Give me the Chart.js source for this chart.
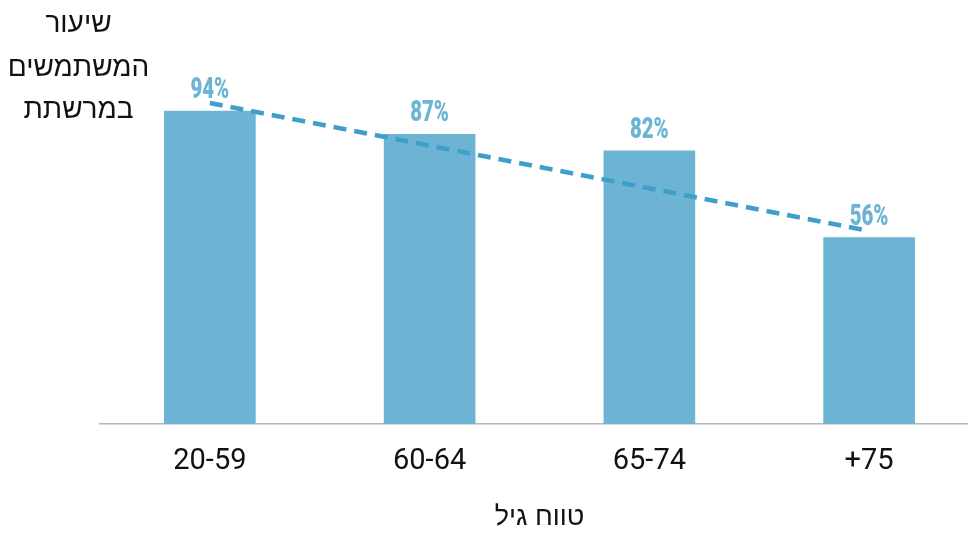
<!DOCTYPE html>
<html lang="he">
<head>
<meta charset="utf-8">
<script src="https://cdn.jsdelivr.net/npm/chart.js@4"></script>
<style>
  html, body { margin: 0; padding: 0; background: #fff; overflow: hidden; }
  #wrap { width: 980px; height: 536px; }
</style>
</head>
<body>
<div id="wrap"><canvas id="c" width="980" height="536"></canvas></div>
<script>
// Age groups and share of internet users in each (percent)
const ageGroups = ['20-59', '60-64', '65-74', '+75'];
const userRates = [94, 87, 82, 56];
// Dashed trend line: read at the first and last age group, straight between
const trendLine = [96.4, null, null, 58];
const yTitleLines = ['שיעור', 'המשתמשים', 'במרשתת'];
const xTitle = 'טווח גיל';

const barColor = '#6db4d4';
const trendColor = '#3f9fcb';

// Percent labels above each bar, in a narrow bold face
const barLabels = {
  id: 'barLabels',
  afterDatasetsDraw(chart) {
    const ctx = chart.ctx;
    const meta = chart.getDatasetMeta(1);
    ctx.save();
    ctx.fillStyle = barColor;
    ctx.font = '900 30px Roboto';
    ctx.textAlign = 'center';
    ctx.textBaseline = 'alphabetic';
    meta.data.forEach((bar, i) => {
      ctx.save();
      ctx.translate(bar.x, bar.y - 13);
      ctx.scale(0.68, 1);
      ctx.fillText(userRates[i] + '%', 0, 0);
      ctx.restore();
    });
    ctx.restore();
  }
};

// Stacked title in the top-left corner
const yTitle = {
  id: 'yTitle',
  afterDraw(chart) {
    const ctx = chart.ctx;
    ctx.save();
    ctx.fillStyle = '#111';
    ctx.font = '28px "Liberation Sans"';
    ctx.textAlign = 'center';
    ctx.textBaseline = 'alphabetic';
    const baselines = [32, 76, 118];
    yTitleLines.forEach((t, i) => ctx.fillText(t, 78.5, baselines[i]));
    ctx.restore();
  }
};

new Chart(document.getElementById('c'), {
  data: {
    labels: ageGroups,
    datasets: [
      {
        type: 'line',
        data: trendLine,
        spanGaps: true,
        borderColor: trendColor,
        borderWidth: 4.5,
        borderDash: [13, 8],
        pointRadius: 0,
        fill: false,
        order: 0
      },
      {
        type: 'bar',
        data: userRates,
        backgroundColor: barColor,
        barThickness: 91,
        order: 1
      }
    ]
  },
  options: {
    responsive: false,
    animation: false,
    events: [],
    layout: { padding: { left: 100, right: 1, top: 91, bottom: 0 } },
    plugins: { legend: { display: false }, tooltip: { enabled: false } },
    scales: {
      y: { display: false, min: 0, max: 100 },
      x: {
        grid: { display: false, drawTicks: false },
        border: { color: '#b4b4c4', width: 1.5 },
        ticks: { color: '#111', font: { family: 'Roboto', size: 29 }, padding: 20 },
        title: {
          display: true,
          text: xTitle,
          color: '#111',
          font: { family: 'Liberation Sans', size: 27 },
          padding: { top: 0, bottom: 2 }
        },
        afterFit(scale) { scale.height = 112; }
      }
    }
  },
  plugins: [barLabels, yTitle]
});
</script>
</body>
</html>
